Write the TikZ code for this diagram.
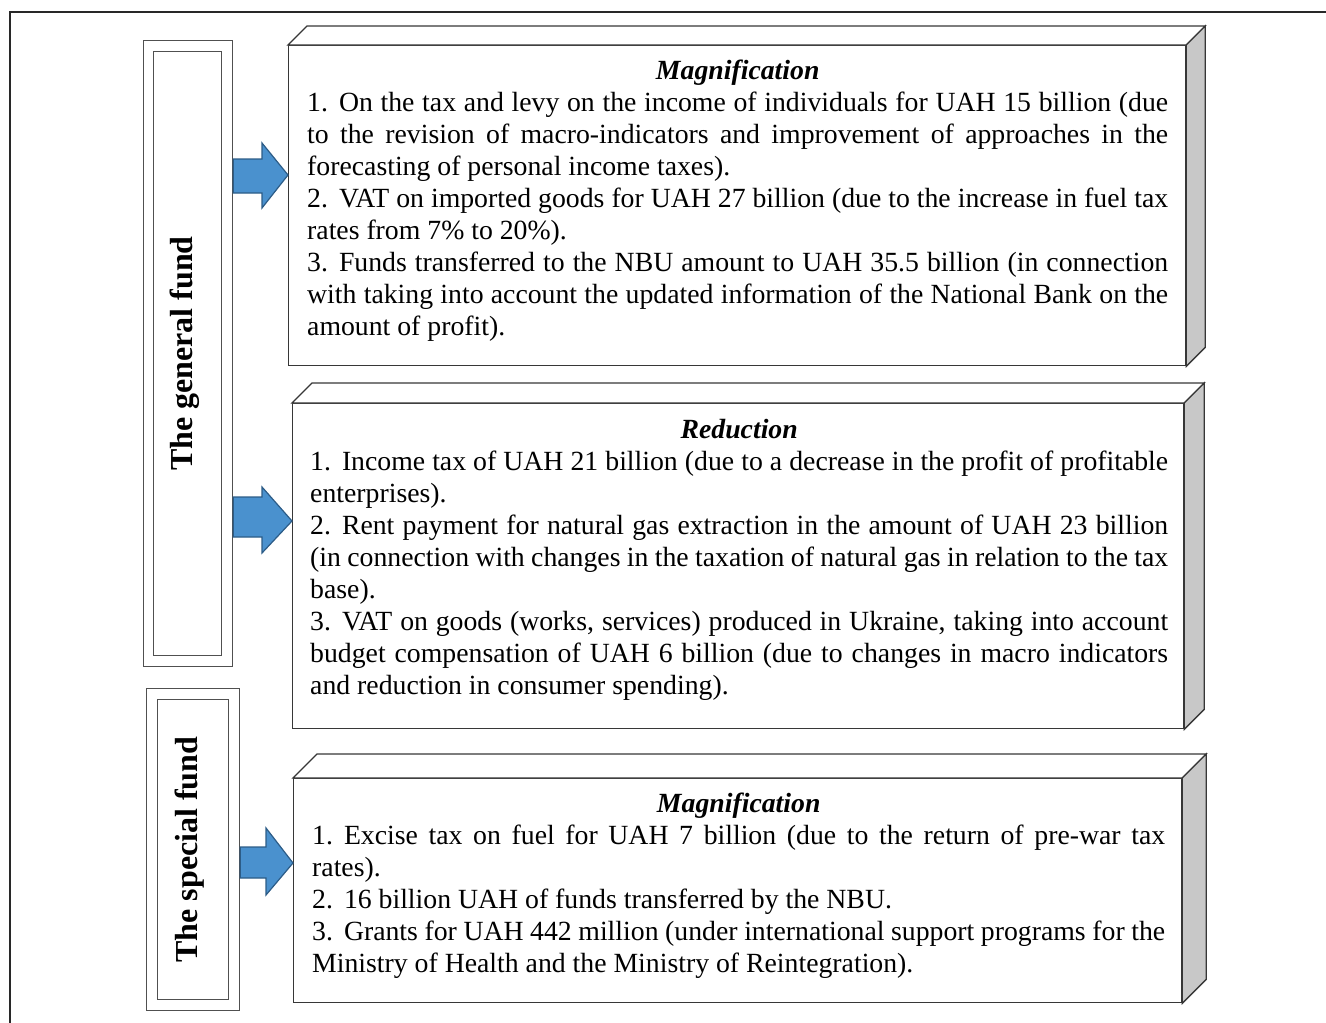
\documentclass[tikz,border=0pt]{standalone}
\usepackage{fontspec}
\setmainfont{Liberation Serif}
\definecolor{edge}{RGB}{55,55,55}
\definecolor{fundedge}{RGB}{80,80,80}
\definecolor{sidegrey}{RGB}{200,200,200}
\definecolor{arrowblue}{RGB}{74,145,206}
\definecolor{arrowedge}{RGB}{44,92,135}
\definecolor{frameline}{RGB}{40,40,40}
\newcommand{\cubefaces}[2]{%
  \draw[topface] (#1.north west) -- ([shift={(#2,-#2)}]#1.north west) -- ([shift={(#2,-#2)}]#1.north east) -- (#1.north east) -- cycle;
  \draw[sideface] (#1.north east) -- ([shift={(#2,-#2)}]#1.north east) -- ([shift={(#2,-#2)}]#1.south east) -- (#1.south east) -- cycle;}
\newcommand{\bodysetup}{\fontsize{27.75}{32}\selectfont\tolerance=10000\hyphenpenalty=10000\exhyphenpenalty=10000\parindent=0pt}
\newcommand{\boxtitle}[1]{\makebox[\linewidth]{\bfseries\itshape #1}\par}
\newcommand{\itemno}[1]{#1.\hspace{11pt}}
\begin{document}
\begin{tikzpicture}[x=1pt,y=-1pt,
  face/.style={draw=edge, line width=1.3pt, fill=white, inner sep=0pt, anchor=north west},
  topface/.style={draw=edge, line width=1.3pt, fill=white, line join=miter},
  sideface/.style={draw=edge, line width=1.3pt, fill=sidegrey, line join=miter},
  fundbox/.style={draw=fundedge, line width=1.2pt, inner sep=0pt, anchor=north west},
  blockarrow/.style={draw=arrowedge, fill=arrowblue, line width=1.2pt, line join=miter},
  bodytext/.style={anchor=base west, inner sep=0pt},
  fundlabel/.style={rotate=90, inner sep=0pt, font=\bfseries\fontsize{32}{36}\selectfont}]
\useasboundingbox (0,0) rectangle (1326,1023);
% outer frame
\draw[frameline, line width=2pt] (10,1030) -- (10,12) -- (1330,12);

% side boxes
\node[fundbox, minimum width=89pt, minimum height=626pt] (genout) at (143,40) {};
\node[fundbox, minimum width=68pt, minimum height=604pt] (genin) at (153,51) {};
\node[fundlabel] (genlab) at ([xshift=-3pt]genin.center) {The general fund};
\node[fundbox, minimum width=93pt, minimum height=322pt] (specout) at (146,688) {};
\node[fundbox, minimum width=71pt, minimum height=300pt] (specin) at (157,699) {};
\node[fundlabel] (speclab) at ([xshift=-3pt]specin.center) {The special fund};

% cubes
\node[face, minimum width=897pt, minimum height=320pt] (m1) at (288,45) {};
\cubefaces{m1}{19}
\node[face, minimum width=891pt, minimum height=325pt] (r1) at (292,403) {};
\cubefaces{r1}{20}
\node[face, minimum width=888pt, minimum height=224pt] (m2) at (293,778) {};
\cubefaces{m2}{24}

% arrows
\draw[blockarrow] (genout.east |- 0,159) -- (262,159) -- (262,143) -- (m1.west |- 0,175) -- (262,208) -- (262,193) -- (genout.east |- 0,193) -- cycle;
\draw[blockarrow] (genout.east |- 0,497) -- (262,497) -- (262,487) -- (r1.west |- 0,521) -- (262,553) -- (262,537) -- (genout.east |- 0,537) -- cycle;
\draw[blockarrow] (specout.east |- 0,847) -- (266,847) -- (266,828) -- (m2.west |- 0,863) -- (266,895) -- (266,878) -- (specout.east |- 0,878) -- cycle;

% texts
\node[bodytext] (t1) at (307,79) {\parbox[t]{861pt}{\bodysetup
\boxtitle{Magnification}
\itemno{1}On the tax and levy on the income of individuals for UAH 15 billion (due\linebreak to the revision of macro-indicators and improvement of approaches in the\linebreak forecasting of personal income taxes).\par
\itemno{2}VAT on imported goods for UAH 27 billion (due to the increase in fuel tax\linebreak rates from 7\% to 20\%).\par
\itemno{3}Funds transferred to the NBU amount to UAH 35.5 billion (in connection\linebreak with taking into account the updated information of the National Bank on the\linebreak amount of profit).\par}};

\node[bodytext] (t2) at (310,438) {\parbox[t]{858pt}{\bodysetup
\boxtitle{Reduction}
\itemno{1}Income tax of UAH 21 billion (due to a decrease in the profit of profitable\linebreak enterprises).\par
\itemno{2}Rent payment for natural gas extraction in the amount of UAH 23 billion\linebreak (in connection with changes in the taxation of natural gas in relation to the tax\linebreak base).\par
\itemno{3}VAT on goods (works, services) produced in Ukraine, taking into account\linebreak budget compensation of UAH 6 billion (due to changes in macro indicators\linebreak and reduction in consumer spending).\par}};

\node[bodytext] (t3) at (312,812) {\parbox[t]{853pt}{\bodysetup
\boxtitle{Magnification}
\itemno{1}Excise tax on fuel for UAH 7 billion (due to the return of pre-war tax\linebreak rates).\par
\itemno{2}16 billion UAH of funds transferred by the NBU.\par
\itemno{3}Grants for UAH 442 million (under international support programs for the\linebreak Ministry of Health and the Ministry of Reintegration).\par}};
\end{tikzpicture}
\end{document}
